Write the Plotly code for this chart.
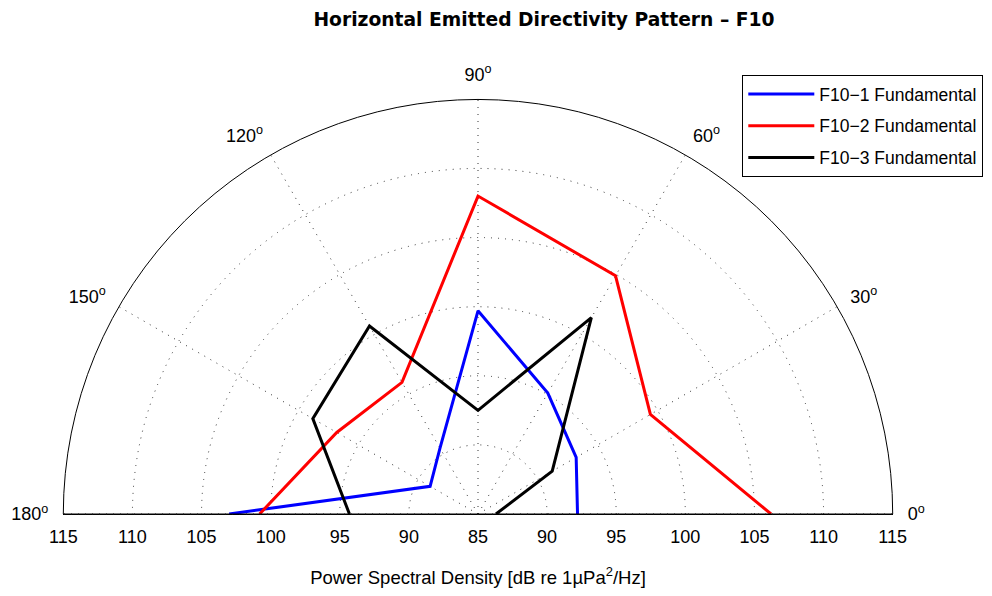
import plotly.graph_objects as go

# ---- data ----
angles = [0, 30, 60, 90, 120, 150, 180]
f10_1 = [92.2, 93.2, 95.1, 99.7, 90.5, 89.0, 103.0]
f10_2 = [106.2, 99.4, 104.9, 108.0, 96.0, 96.8, 100.8]
f10_3 = [86.3, 91.2, 101.4, 92.5, 100.7, 98.8, 94.3]
series_names = ["F10\u22121 Fundamental", "F10\u22122 Fundamental", "F10\u22123 Fundamental"]
series_colors = ["#0000FF", "#FF0000", "#000000"]

r_min, r_max = 85, 115
r_grid = [90, 95, 100, 105, 110]
x_tick_vals = [-30, -25, -20, -15, -10, -5, 0, 5, 10, 15, 20, 25, 30]
x_tick_text = ["115", "110", "105", "100", "95", "90", "85", "90", "95", "100", "105", "110", "115"]
ang_ticks = [0, 30, 60, 90, 120, 150, 180]
ang_text = [f"{a}<sup>o</sup>" for a in ang_ticks]

W, H = 992, 596
cx0, cx1 = 63.3, 892.7   # pixel edges of diameter
base_y = 514.0
top_y = base_y - (cx1 - cx0) / 2

FONT = "Liberation Sans, Arial, Helvetica, sans-serif"

fig = go.Figure()
for name, vals, col, grp in zip(series_names, [f10_1, f10_2, f10_3], series_colors, ["a", "b", "c"]):
    fig.add_trace(go.Scatterpolar(
        r=vals, theta=angles, mode="lines", name=name,
        line=dict(color=col, width=3), legendgroup=grp,
        subplot="polar",
    ))

# empty helper trace so the cartesian x axis (diameter scale) is rendered
fig.add_trace(go.Scatter(x=[], y=[], showlegend=False, hoverinfo="skip",
                         xaxis="x", yaxis="y"))

fig.update_layout(
    width=W, height=H,
    margin=dict(l=0, r=0, t=0, b=0, autoexpand=False),
    paper_bgcolor="white", plot_bgcolor="rgba(0,0,0,0)",
    font=dict(family=FONT, size=18, color="black"),
    title=dict(text="<b>Horizontal Emitted Directivity Pattern \u2013 F10</b>",
               x=544 / W, xanchor="center", y=1 - 19 / H, yanchor="middle",
               xref="paper", yref="container",
               font=dict(size=18.7, family="DejaVu Sans, sans-serif", color="black")),
    polar=dict(
        domain=dict(x=[cx0 / W, cx1 / W], y=[1 - base_y / H, 1 - top_y / H]),
        sector=[0, 180],
        bgcolor="white",
        radialaxis=dict(range=[r_min, r_max], tickvals=r_grid, showticklabels=False,
                        ticks="", showline=False, gridcolor="#333333",
                        griddash="1px,6px", gridwidth=1),
        angularaxis=dict(tickvals=ang_ticks, ticktext=ang_text,
                         ticks="outside", ticklen=11, tickcolor="rgba(0,0,0,0)",
                         showline=True, linecolor="black", linewidth=1,
                         gridcolor="#333333", griddash="1px,6px", gridwidth=1,
                         tickfont=dict(size=18, family=FONT),
                         direction="counterclockwise", rotation=0),
    ),
    xaxis=dict(domain=[cx0 / W, cx1 / W], range=[-30, 30], anchor="free",
               position=1 - base_y / H, tickvals=x_tick_vals, ticktext=x_tick_text,
               showline=True, linecolor="black", linewidth=1, showgrid=False,
               zeroline=False, ticks="", ticklabelstandoff=6, fixedrange=True,
               automargin=False,
               tickfont=dict(size=18, family=FONT),
               title=dict(text="Power Spectral Density [dB re 1\u00b5Pa<sup>2</sup>/Hz]",
                          font=dict(size=18.5, family=FONT), standoff=25)),
    yaxis=dict(visible=False, range=[0, 1], domain=[0, 1], fixedrange=True,
               automargin=False),
    legend=dict(x=742.3 / W, y=1 - 75 / H, xanchor="left", yanchor="top",
                bordercolor="black", borderwidth=1, bgcolor="white",
                font=dict(size=17.5, family=FONT), tracegroupgap=6,
                traceorder="grouped", itemwidth=66),
    showlegend=True,
)

fig.write_html("out.html")
